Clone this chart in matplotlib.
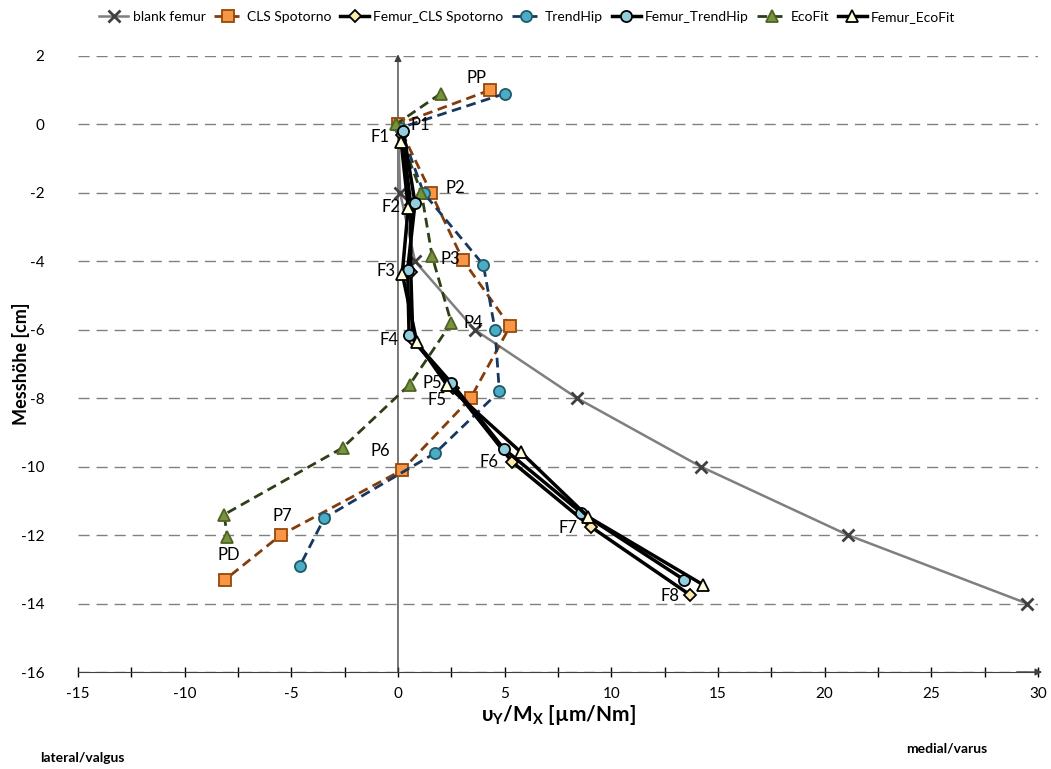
import matplotlib
matplotlib.use("Agg")
import matplotlib.pyplot as plt
from matplotlib.ticker import MultipleLocator

plt.rcParams['font.family'] = ['Lato', 'DejaVu Sans']
plt.rcParams['mathtext.fontset'] = 'custom'
plt.rcParams['mathtext.rm'] = 'Lato:bold'
plt.rcParams['mathtext.bf'] = 'Lato:bold'
plt.rcParams['mathtext.default'] = 'bf'
plt.rcParams['axes.unicode_minus'] = False

# data (x = uY/MX, y = Messhoehe)
blank_x = [0.0, 0.1, 0.8, 3.6, 8.4, 14.2, 21.1, 29.5]
blank_y = [0, -2, -4, -6, -8, -10, -12, -14]

cls_x = [4.3, 0.0, 1.55, 3.05, 5.25, 3.4, 0.2, -5.5, -8.1]
cls_y = [1.0, 0.0, -2.0, -3.97, -5.9, -8.0, -10.1, -12.0, -13.3]

trend_x = [5.0, 0.1, 1.2, 4.0, 4.55, 4.75, 1.75, -3.45, -4.6]
trend_y = [0.9, -0.1, -2.0, -4.1, -6.0, -7.8, -9.6, -11.5, -12.9]

eco_x = [2.0, -0.1, 1.1, 1.6, 2.5, 0.55, -2.6, -8.15, -8.0]
eco_y = [0.9, 0.0, -2.0, -3.85, -5.8, -7.6, -9.45, -11.4, -12.05]

fcls_x = [0.2, 0.6, 0.6, 0.7, 2.6, 5.35, 9.05, 13.7]
fcls_y = [-0.3, -2.35, -4.3, -6.3, -7.7, -9.86, -11.76, -13.75]

ftrend_x = [0.25, 0.8, 0.45, 0.52, 2.5, 4.95, 8.6, 13.4]
ftrend_y = [-0.2, -2.3, -4.25, -6.15, -7.55, -9.47, -11.35, -13.3]

feco_x = [0.15, 0.48, 0.2, 0.88, 2.3, 5.75, 8.9, 14.3]
feco_y = [-0.52, -2.43, -4.36, -6.35, -7.62, -9.57, -11.46, -13.45]

p_labels = ['PP', 'P1', 'P2', 'P3', 'P4', 'P5', 'P6', 'P7', 'PD']
p_label_pos = [(3.7, 1.37), (1.03, -0.03), (2.67, -1.87), (2.44, -3.94), (3.52, -5.81),
               (1.6, -7.56), (-0.84, -9.55), (-5.44, -11.45), (-7.92, -12.58)]
f_labels = ['F1', 'F2', 'F3', 'F4', 'F5', 'F6', 'F7', 'F8']
f_label_pos = [(-0.84, -0.38), (-0.33, -2.42), (-0.56, -4.29), (-0.42, -6.31),
               (1.83, -8.06), (4.27, -9.87), (7.97, -11.8), (12.75, -13.78)]

fig = plt.figure(figsize=(10.51, 7.69), dpi=100)
ax = fig.add_axes([0.0742, 0.1261, 0.9134, 0.8011])

dash = (3.5, 2)
ax.plot(blank_x, blank_y, color='#7f7f7f', lw=1.8, marker='x', ms=8, mew=2,
        mec='#404040', label='blank femur', zorder=3)
ax.plot(cls_x, cls_y, color='#843c0c', lw=2, dashes=dash, marker='s', ms=8,
        mfc='#f79646', mec='#984807', mew=1.3, label='CLS Spotorno', zorder=4)
ax.plot(fcls_x, fcls_y, color='black', lw=2.5, marker='D', ms=6.5,
        mfc='#fde9a9', mec='black', mew=1.3, label='Femur_CLS Spotorno', zorder=5)
ax.plot(trend_x, trend_y, color='#17375e', lw=2, dashes=dash, marker='o', ms=8,
        mfc='#4bacc6', mec='#215968', mew=1.3, label='TrendHip', zorder=4)
ax.plot(ftrend_x, ftrend_y, color='black', lw=2.5, marker='o', ms=8,
        mfc='#93cddd', mec='black', mew=1.3, label='Femur_TrendHip', zorder=5)
ax.plot(eco_x, eco_y, color='#2e3f17', lw=2, dashes=dash, marker='^', ms=9,
        mfc='#77933c', mec='#4f6228', mew=1.3, label='EcoFit', zorder=4)
ax.plot(feco_x, feco_y, color='black', lw=2.5, marker='^', ms=9,
        mfc='#ffffdd', mec='black', mew=1.3, label='Femur_EcoFit', zorder=5)

for lab, (x, y) in zip(p_labels + f_labels, p_label_pos + f_label_pos):
    ax.text(x, y, lab, fontsize=12, ha='center', va='center', zorder=6)

ax.set_xlim(-15, 30)
ax.set_ylim(-16, 2)
ax.xaxis.set_major_locator(MultipleLocator(5))
ax.xaxis.set_minor_locator(MultipleLocator(2.5))
ax.yaxis.set_major_locator(MultipleLocator(2))
ax.tick_params(axis='x', which='both', direction='inout', length=7, width=1,
               labelsize=11, pad=7)
ax.tick_params(axis='y', length=0, labelsize=11, pad=24)
ax.yaxis.grid(True, color='#808080', lw=1, dashes=(8, 5))
ax.set_axisbelow(True)

for s in ['left', 'right', 'top']:
    ax.spines[s].set_visible(False)
ax.spines['bottom'].set_color('#404040')

# axis lines with arrows
ax.annotate('', xy=(0, 2.05), xytext=(0, -16), zorder=2, annotation_clip=False,
            arrowprops=dict(arrowstyle='-|>', color='#404040', lw=1, mutation_scale=10,
                            shrinkA=0, shrinkB=0))
ax.annotate('', xy=(30.2, -16), xytext=(29, -16), zorder=2, annotation_clip=False,
            arrowprops=dict(arrowstyle='-|>', color='#404040', lw=1, mutation_scale=10,
                            shrinkA=0, shrinkB=0))

ax.set_ylabel('Messhöhe [cm]', fontsize=13, fontweight='bold')
ax.set_xlabel(r'$\upsilon_Y/M_X$ [µm/Nm]', fontsize=15, fontweight='bold', labelpad=2)
ax.yaxis.set_label_coords(-0.05, 0.5)

fig.text(0.038, 0.009, 'lateral/valgus', fontsize=10, fontweight='bold')
fig.text(0.862, 0.022, 'medial/varus', fontsize=10, fontweight='bold')

ax.legend(loc='center', bbox_to_anchor=(0.468, 1.063), ncol=7, frameon=False,
          fontsize=10, handlelength=2.1, columnspacing=0.6, handletextpad=0.3)

fig.savefig('out.png', dpi=100)
